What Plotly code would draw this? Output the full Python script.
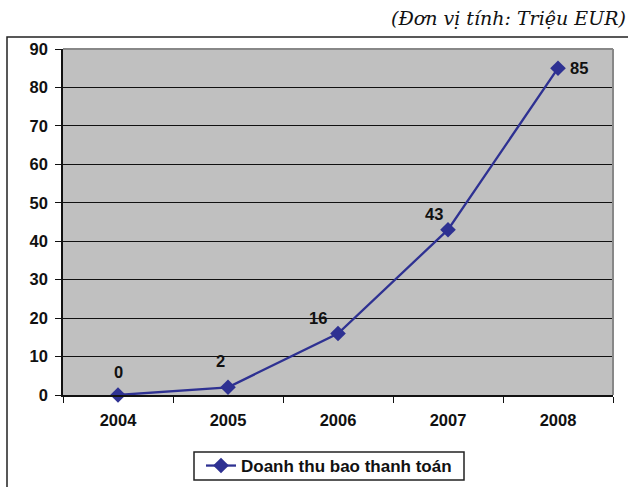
import plotly.graph_objects as go

years = ["2004", "2005", "2006", "2007", "2008"]
revenue = [0, 2, 16, 43, 85]
label_dx = [0, -8, -20, -14, 21]
label_dy = [23, 26, 15, 16, 0]
y_ticks = [0, 10, 20, 30, 40, 50, 60, 70, 80, 90]
series_name = "Doanh thu bao thanh toán"
unit_note = "(Đơn vị tính: Triệu EUR)"

L, R, T, B = 63, 15, 49, 92
W, H = 628, 487
pw, ph = W - L - R, H - T - B

def px_x(x):
    return (x - L) / pw

def px_y(y):
    return (H - B - y) / ph

bold = dict(family="Liberation Sans", size=16.5, color="#111", weight="bold")

fig = go.Figure()
fig.add_trace(go.Scatter(
    x=years, y=revenue, mode="lines+markers", name=series_name,
    line=dict(color="#2e3192", width=2.3),
    marker=dict(symbol="diamond", size=12, color="#2e3192"),
    cliponaxis=False,
))

for i, (v, dx, dy) in enumerate(zip(revenue, label_dx, label_dy)):
    fig.add_annotation(x=i, y=v, xref="x", yref="y", text=str(v), showarrow=False,
                       xshift=dx, yshift=dy, font=bold)

fig.update_layout(
    width=W, height=H,
    margin=dict(l=L, r=R, t=T, b=B, autoexpand=False),
    paper_bgcolor="white", plot_bgcolor="#c0c0c0",
    font=bold,
    showlegend=True,
    legend=dict(orientation="h", xref="container", yref="container",
                x=329 / W, xanchor="center", y=1 - 466 / H, yanchor="middle",
                borderwidth=0, bgcolor="rgba(0,0,0,0)",
                font=dict(family="Liberation Sans", size=17, color="#111", weight="bold")),
    xaxis=dict(type="category", tickson="boundaries", ticks="outside", ticklen=6,
               tickcolor="#111", showline=True, linecolor="#111", linewidth=1.5,
               showgrid=False, tickfont=bold, range=[-0.5, 4.5],
               ticklabelstandoff=9),
    yaxis=dict(range=[0, 90], tickvals=y_ticks, ticks="outside", ticklen=6,
               tickcolor="#111", showline=True, linecolor="#111", linewidth=1.5,
               showgrid=True, gridcolor="#111", gridwidth=1, zeroline=False,
               tickfont=bold, ticklabelstandoff=4),
)

# gray frame on top/right of plot area
fig.add_shape(type="line", xref="paper", yref="paper", x0=0, x1=1, y0=1, y1=1,
              line=dict(color="#888", width=2))
fig.add_shape(type="line", xref="paper", yref="paper", x0=1, x1=1, y0=0, y1=1,
              line=dict(color="#888", width=2))
# outer chart border
fig.add_shape(type="rect", xref="paper", yref="paper",
              x0=px_x(7), x1=px_x(640), y0=px_y(495), y1=px_y(37),
              line=dict(color="#222", width=1.5), layer="below")
# legend box
fig.add_shape(type="rect", xref="paper", yref="paper",
              x0=px_x(194), x1=px_x(464), y0=px_y(480), y1=px_y(452),
              line=dict(color="#222", width=1.5), fillcolor="white", layer="below")

fig.add_annotation(text=unit_note, xref="paper", yref="paper",
                   x=px_x(628), xanchor="right", y=px_y(18), yanchor="middle",
                   showarrow=False,
                   font=dict(family="DejaVu Serif", size=19, color="#111",
                             style="italic", weight="normal"))

fig.write_html("out.html", config={"displayModeBar": False},
               post_script="document.body.style.margin='0';document.body.style.overflow='hidden';")
